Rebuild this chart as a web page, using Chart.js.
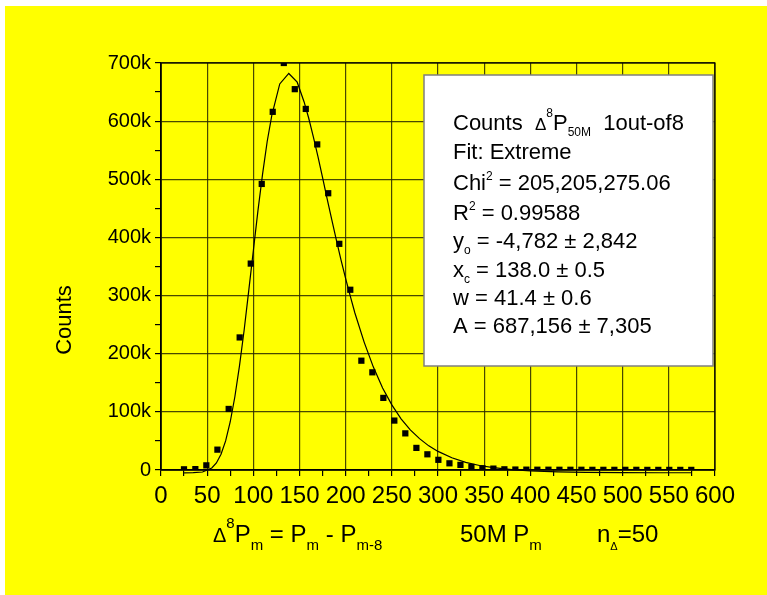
<!DOCTYPE html>
<html><head><meta charset="utf-8">
<script src="https://cdn.jsdelivr.net/npm/chart.js@4/dist/chart.umd.min.js"></script>
<style>html,body{margin:0;padding:0;background:#fff}canvas{display:block}</style>
</head><body>
<canvas id="c" width="767" height="595"></canvas>
<script>
// ---- data ----
const binCenters = [24.9, 37.2, 49.1, 61.1, 73.3, 85.2, 97.2, 109.1, 121.0, 133.0, 144.9, 156.8, 169.2, 181.1, 193.1, 205.0, 217.0, 228.9, 240.8, 252.7, 264.6, 276.6, 288.5, 300.4, 312.4, 324.3, 336.2, 348.1, 360.0, 371.9, 383.8, 395.7, 407.6, 419.6, 431.5, 443.4, 455.3, 467.2, 479.1, 491.0, 502.9, 514.8, 526.7, 538.6, 550.5, 562.4, 574.3];
const counts = [1200, 1500, 8000, 35000, 105000, 228000, 355000, 492000, 616000, 700000, 655000, 621000, 560000, 476000, 389000, 310000, 188000, 168000, 124000, 85000, 63000, 38000, 27000, 17500, 11500, 8800, 5300, 3000, 2400, 1200, 800, 600, 500, 500, 400, 400, 400, 300, 300, 300, 300, 300, 200, 200, 200, 200, 200];
const fitX = [25, 35, 45, 55, 60, 65, 70, 75, 80, 85, 90, 95, 100, 105, 110, 115, 120, 128.6, 138.4, 147.5, 155, 160, 165, 170, 175, 180, 185, 190, 195, 200, 205, 210, 220, 230, 240, 250, 260, 270, 280, 290, 300, 315, 330, 345, 360, 380, 400, 430, 460, 500, 540, 574];
const fitY = [-4800, -4600, -3400, 3500, 12000, 27000, 50000, 83000, 126000, 179000, 240000, 308000, 377000, 446000, 509000, 565000, 610000, 664000, 682000, 667000, 633000, 605000, 573000, 539000, 503000, 466000, 430000, 395000, 361000, 329000, 299000, 270000, 220000, 177000, 141000, 112000, 88000, 69000, 54000, 41500, 32000, 21000, 13000, 7700, 4000, 600, -1500, -3200, -4000, -4500, -4700, -4730];
const xMajorTicks = [0, 50, 100, 150, 200, 250, 300, 350, 400, 450, 500, 550, 600];
const xTickLabels = ['0', '50', '100', '150', '200', '250', '300', '350', '400', '450', '500', '550', '600'];
const yMajorTicks = [0, 100000, 200000, 300000, 400000, 500000, 600000, 700000];
const yTickLabels = ['0', '100k', '200k', '300k', '400k', '500k', '600k', '700k'];

const FONT = '"Liberation Sans", Arial, Helvetica, sans-serif';

function withMinor(major) {
  const out = [];
  for (let i = 0; i < major.length; i++) {
    out.push({value: major[i]});
    if (i < major.length - 1) out.push({value: (major[i] + major[i + 1]) / 2});
  }
  return out;
}

function runs(ctx, x, base, parts, def) {
  let cx = x;
  for (const p of parts) {
    ctx.font = (p.s || def) + 'px ' + FONT;
    ctx.fillText(p.t, cx, base + (p.dy || 0));
    cx += ctx.measureText(p.t).width;
  }
}

const decor = {
  id: 'decor',
  beforeDraw(chart) {
    const ctx = chart.ctx;
    ctx.save();
    ctx.fillStyle = '#ffff00';
    ctx.fillRect(5, 6, 762, 589);
    ctx.restore();
  },
  beforeDatasetsDraw(chart) {
    const a = chart.chartArea, ctx = chart.ctx;
    ctx.save();
    ctx.strokeStyle = '#000';
    ctx.lineWidth = 1.2;
    ctx.strokeRect(a.left, a.top, a.right - a.left, a.bottom - a.top);
    ctx.restore();
  },
  afterDraw(chart) {
    const ctx = chart.ctx;
    ctx.save();
    // fit parameter box
    ctx.fillStyle = '#ffffff';
    ctx.fillRect(424, 75, 289, 291);
    ctx.strokeStyle = '#7f7f7f';
    ctx.lineWidth = 1.5;
    ctx.strokeRect(424, 75, 289, 291);
    ctx.fillStyle = '#000';
    ctx.textBaseline = 'alphabetic';
    ctx.textAlign = 'left';
    const lx = 453, L = 22;
    runs(ctx, lx, 130, [{t: 'Counts  '}, {t: 'Δ', s: 17}, {t: '8', s: 12, dy: -13}, {t: 'P'}, {t: '50M', s: 12, dy: 6}, {t: '  1out-of8'}], L);
    runs(ctx, lx, 159, [{t: 'Fit: Extreme'}], L);
    runs(ctx, lx, 190, [{t: 'Chi'}, {t: '2', s: 12, dy: -10}, {t: ' = 205,205,275.06'}], L);
    runs(ctx, lx, 220, [{t: 'R'}, {t: '2', s: 12, dy: -10}, {t: ' = 0.99588'}], L);
    runs(ctx, lx, 248, [{t: 'y'}, {t: 'o', s: 12, dy: 6}, {t: ' = -4,782 ± 2,842'}], L);
    runs(ctx, lx, 277, [{t: 'x'}, {t: 'c', s: 12, dy: 6}, {t: ' = 138.0 ± 0.5'}], L);
    runs(ctx, lx, 305, [{t: 'w = 41.4 ± 0.6'}], L);
    runs(ctx, lx, 333, [{t: 'A = 687,156 ± 7,305'}], L);
    // x axis title
    const xb = 542, T = 24;
    runs(ctx, 213, xb, [{t: 'Δ', s: 20}, {t: '8', s: 15, dy: -14}, {t: 'P'}, {t: 'm', s: 15, dy: 8}, {t: ' = P'}, {t: 'm', s: 15, dy: 8}, {t: ' - P'}, {t: 'm-8', s: 15, dy: 8}], T);
    runs(ctx, 460, xb, [{t: '50M P'}, {t: 'm', s: 15, dy: 8}], T);
    runs(ctx, 597, xb, [{t: 'n'}, {t: 'Δ', s: 11, dy: 8}, {t: '=50'}], T);
    // y axis title
    ctx.translate(71, 320);
    ctx.rotate(-Math.PI / 2);
    ctx.textAlign = 'center';
    ctx.font = '22px ' + FONT;
    ctx.fillText('Counts', 0, 0);
    ctx.restore();
  }
};

new Chart(document.getElementById('c'), {
  type: 'scatter',
  data: {
    datasets: [
      {
        type: 'line',
        label: 'fit',
        data: fitX.map((x, i) => ({x, y: fitY[i]})),
        borderColor: '#000',
        borderWidth: 1.2,
        pointRadius: 0,
        tension: 0,
        fill: false,
        clip: false,
        order: 2
      },
      {
        label: 'Counts',
        data: binCenters.map((x, i) => ({x, y: counts[i]})),
        backgroundColor: '#000',
        borderColor: '#000',
        borderWidth: 0,
        pointStyle: 'rect',
        pointRadius: 4.4,
        pointHoverRadius: 4.4,
        order: 1
      }
    ]
  },
  options: {
    responsive: false,
    animation: false,
    events: [],
    layout: {padding: {left: 0, right: 52, top: 63, bottom: 0}},
    plugins: {legend: {display: false}, tooltip: {enabled: false}, title: {display: false}},
    scales: {
      x: {
        type: 'linear', min: 0, max: 600,
        afterBuildTicks(s) { s.ticks = withMinor(xMajorTicks); },
        afterFit(s) { s.height = 125; },
        ticks: {
          autoSkip: false, maxRotation: 0, color: '#000', padding: 6,
          font: {size: 24, family: FONT},
          callback(v) { const i = xMajorTicks.indexOf(v); return i >= 0 ? xTickLabels[i] : ''; }
        },
        grid: {
          color(c) { return c.tick && xMajorTicks.includes(c.tick.value) ? 'rgba(40,40,0,0.85)' : 'rgba(0,0,0,0)'; },
          tickColor: '#000', tickLength: 6, lineWidth: 1.2
        },
        border: {display: true, color: '#000', width: 1.5}
      },
      y: {
        type: 'linear', min: 0, max: 700000,
        afterBuildTicks(s) { s.ticks = withMinor(yMajorTicks); },
        afterFit(s) { s.width = 161; },
        ticks: {
          autoSkip: false, color: '#000', padding: 4,
          font: {size: 20, family: FONT},
          callback(v) { const i = yMajorTicks.indexOf(v); return i >= 0 ? yTickLabels[i] : ''; }
        },
        grid: {
          color(c) { return c.tick && yMajorTicks.includes(c.tick.value) ? 'rgba(40,40,0,0.85)' : 'rgba(0,0,0,0)'; },
          tickColor: '#000', tickLength: 6, lineWidth: 1.2
        },
        border: {display: true, color: '#000', width: 1.5}
      }
    }
  },
  plugins: [decor]
});
</script>
</body></html>
